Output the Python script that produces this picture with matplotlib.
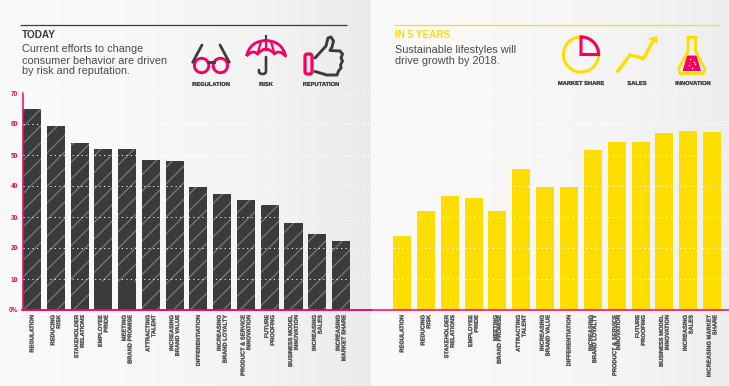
#!/usr/bin/env python3
import matplotlib
matplotlib.use('Agg')
import matplotlib.pyplot as plt
import matplotlib.patheffects as pe
import numpy as np
from matplotlib.colors import LinearSegmentedColormap
from matplotlib.patches import Circle, FancyBboxPatch, Polygon, Wedge, PathPatch
from matplotlib.path import Path

# Data
labels_today = ['REGULATION', 'REDUCING\nRISK', 'STAKEHOLDER\nRELATIONS', 'EMPLOYEE\nPRIDE',
                'MEETING\nBRAND PROMISE', 'ATTRACTING\nTALENT', 'INCREASING\nBRAND VALUE',
                'DIFFERENTIATION', 'INCREASING\nBRAND LOYALTY', 'PRODUCT & SERVICE\nINNOVATION',
                'FUTURE\nPROOFING', 'BUSINESS MODEL\nINNOVATION', 'INCREASING\nSALES',
                'INCREASING\nMARKET SHARE']
labels_future = labels_today[:-1] + ['INCREASING MARKET\nSHARE']
values_today = [64.8, 59.3, 53.9, 52.0, 52.0, 48.4, 48.0, 39.7, 37.4, 35.5, 33.9, 28.0, 24.5, 22.3]
values_future = [24.0, 32.0, 36.8, 36.0, 32.0, 45.5, 39.7, 39.7, 51.6, 54.2, 54.2, 57.0, 57.7, 57.4]
y_ticks = [0, 10, 20, 30, 40, 50, 60, 70]
y_ticklabels = ['0%', '10', '20', '30', '40', '50', '60', '70']

PINK = '#f8005f'
YELLOW = '#fedd00'
DARK = '#3a3b3b'
TEXT = '#4a4a4a'
NARROW = ['Liberation Sans Narrow', 'Liberation Sans']
W, H = 729, 386
THICK = [pe.withStroke(linewidth=0.12, foreground='#555555')]

plt.rcParams['hatch.linewidth'] = 1.0
fig = plt.figure(figsize=(W / 100, H / 100), dpi=100)


def px_axes(x0, y0, x1, y1, **kw):
    # axes from pixel box, y counted from the top of the image
    return fig.add_axes([x0 / W, 1 - y1 / H, (x1 - x0) / W, (y1 - y0) / H], **kw)


# Panel backgrounds
cmap_left = LinearSegmentedColormap.from_list('l', ['#fbfafa', '#f9f8f7', '#f5f4f4', '#ebebeb'])
cmap_right = LinearSegmentedColormap.from_list('r', ['#fbfafa', '#f9f8f7', '#f6f5f5', '#eeeeee'])
bg = px_axes(0, 0, W, H, zorder=0)
bg.axis('off')
ramp = np.linspace(0, 1, 256).reshape(1, -1)
bg.imshow(ramp, cmap=cmap_left, extent=(0, 371, H, 0), aspect='auto')
bg.imshow(ramp, cmap=cmap_right, extent=(371, W, H, 0), aspect='auto')
bg.set_xlim(0, W)
bg.set_ylim(H, 0)

# Charts
ax1 = px_axes(22.5, 93, 371, 310, zorder=2)
ax2 = px_axes(371, 93, 729, 310, zorder=2)
x1 = np.arange(len(values_today))
x2 = np.arange(len(values_future))

ax1.bar(x1, values_today, width=0.76, color=DARK, edgecolor='#747575', hatch='//', linewidth=0)
solid = [(3, 9), (4, 9)]  # hatching stops short on these two bars
ax1.bar([s[0] for s in solid], [s[1] for s in solid], width=0.76, color=DARK, linewidth=0)
ax2.bar(x2, values_future, width=0.755, color=YELLOW, linewidth=0)

ax1.set_xlim(-0.40, 14.26)
ax2.set_xlim(-1.30, 13.71)

for ax, x, labs in ((ax1, x1, labels_today), (ax2, x2, labels_future)):
    ax.set_ylim(0, 70)
    ax.patch.set_alpha(0)
    ax.set_xticks(x)
    ax.set_xticklabels(labs, rotation=90, ha='center', va='top', ma='right', linespacing=1.2,
                       family=NARROW, fontweight='bold', fontsize=4.15, color='#555555', path_effects=THICK)
    ax.tick_params(axis='x', length=0, pad=3.6)
    for sp in ('top', 'right'):
        ax.spines[sp].set_visible(False)
    ax.spines['bottom'].set_color(PINK)
    ax.spines['bottom'].set_linewidth(1.1)
    ax.set_axisbelow(False)
    ax.set_yticks(y_ticks)
    ax.grid(axis='y', color='white', linewidth=0.7, linestyle=(0, (1.2, 3.4)))
    ax.grid(axis='x', visible=False)

ax1.spines['left'].set_color(PINK)
ax1.spines['left'].set_linewidth(1.1)
ax1.set_yticklabels(y_ticklabels, family=NARROW, fontweight='bold', fontsize=4.7, color=PINK)
ax1.tick_params(axis='y', length=0, pad=3)
ax2.spines['left'].set_visible(False)
ax2.tick_params(axis='y', length=0, labelleft=False)

# tighter lines on a few labels of the right chart
for i in (4, 8, 9):
    ax2.get_xticklabels()[i].set_linespacing(0.7)

# Overlay for headings and icons, in image pixels
ov = px_axes(0, 0, W, H, zorder=3)
ov.set_xlim(0, W)
ov.set_ylim(H, 0)
ov.axis('off')

ov.plot([20, 347], [25, 25], color=DARK, lw=0.9, solid_capstyle='butt')
ov.plot([394, 720], [25, 25], color=YELLOW, lw=0.9, solid_capstyle='butt')
ov.plot([21, 371], [310, 310], color=PINK, lw=1.1, solid_capstyle='butt')

ov.text(22, 34.5, 'TODAY', fontsize=7.2, fontweight='bold', color=DARK, va='center', family='Liberation Sans')
ov.text(395, 35, 'IN 5 YEARS', fontsize=7.2, fontweight='bold', color=YELLOW, va='center', family='Liberation Sans')
for y, s in zip((49.5, 60.5, 71.5), ('Current efforts to change', 'consumer behavior are driven', 'by risk and reputation.')):
    ov.text(22, y, s, fontsize=7.85, color=TEXT, va='center', family='Liberation Sans')
for y, s in zip((50, 61), ('Sustainable lifestyles will', 'drive growth by 2018.')):
    ov.text(395, y, s, fontsize=7.85, color=TEXT, va='center', family='Liberation Sans')

icon_names = ['REGULATION', 'RISK', 'REPUTATION', 'MARKET SHARE', 'SALES', 'INNOVATION']
icon_x = [211, 266, 321, 581, 637, 693]
icon_y = [84.5, 84.5, 84.5, 83.5, 83.5, 83.5]
for x, y, s in zip(icon_x, icon_y, icon_names):
    ov.text(x, y, s, fontsize=4.15, fontweight='bold', color='#444444', ha='center', va='center', family=NARROW,
            path_effects=THICK)

# Glasses
ov.plot([192.7, 202], [62.3, 45], color=DARK, lw=2.0, solid_capstyle='round')
ov.plot([229.3, 220], [62.3, 45], color=DARK, lw=2.0, solid_capstyle='round')
ov.plot([208, 214], [62, 62], color=DARK, lw=2.0)
ov.add_patch(Circle((201.6, 65.5), 7.2, fill=False, ec=PINK, lw=2.1))
ov.add_patch(Circle((220.4, 65.5), 7.2, fill=False, ec=PINK, lw=2.1))

# Umbrella
ov.plot([266, 266], [36, 41], color=DARK, lw=1.5)
handle = Path([(266, 57), (266, 71), (266, 74), (262.5, 74), (259.5, 74), (259, 72), (259, 70)],
              [Path.MOVETO, Path.LINETO, Path.CURVE3, Path.CURVE3, Path.CURVE3, Path.CURVE3, Path.LINETO])
ov.add_patch(PathPatch(handle, fill=False, ec=DARK, lw=1.9, capstyle='round'))
canopy = Path([(246.5, 56), (250, 41), (266, 40.5), (282, 41), (285.5, 56),
               (279, 49), (274.5, 54), (270, 49), (266, 49), (262, 49), (257.5, 54), (253, 49), (246.5, 56)],
              [Path.MOVETO, Path.CURVE3, Path.CURVE3, Path.CURVE3, Path.CURVE3,
               Path.CURVE3, Path.CURVE3, Path.CURVE3, Path.CURVE3, Path.CURVE3, Path.CURVE3, Path.CURVE3, Path.CURVE3])
ov.add_patch(PathPatch(canopy, fill=False, ec=PINK, lw=2.0, joinstyle='round'))
ov.plot([266, 266], [41, 50], color=PINK, lw=1.6)
ov.plot([261, 257.5], [41.5, 54], color=PINK, lw=1.6)
ov.plot([271, 274.5], [41.5, 54], color=PINK, lw=1.6)

# Thumb
ov.add_patch(FancyBboxPatch((305, 54), 7, 20, boxstyle='round,pad=0,rounding_size=2.2', fill=False, ec=PINK, lw=2.3))
thumb = [(315, 58), (326, 46), (328, 38), (331, 37), (333.5, 41), (332, 47), (330, 50.5), (340, 51),
         (342.5, 54), (341, 58), (342.5, 61), (340.5, 65), (341, 68), (338.5, 71), (337, 75),
         (327, 75), (315, 71.5)]
ov.plot(*zip(*thumb), color=DARK, lw=2.1, solid_joinstyle='round', solid_capstyle='round')

# Market share pie
ov.add_patch(Circle((581, 54.5), 17.6, fill=False, ec=YELLOW, lw=2.2))
ov.add_patch(Wedge((581, 54.5), 17.6, 270, 360, fill=False, ec=PINK, lw=2.2))

# Sales arrow
ov.plot([617, 630, 643.5, 653], [72.5, 55, 58.5, 41], color=YELLOW, lw=2.5, solid_joinstyle='miter', solid_capstyle='butt')
ov.add_patch(Polygon([(657.5, 36), (657.3, 44), (648, 38.5)], fc=YELLOW, ec='none'))

# Flask
flask = [(686, 37), (697.5, 37)]
ov.plot(*zip(*flask), color=YELLOW, lw=2.2, solid_capstyle='butt')
body = [(688, 37), (688, 51), (678.5, 69), (680, 73.5), (703.5, 73.5), (705, 69), (695.5, 51), (695.5, 37)]
ov.plot(*zip(*body), color=YELLOW, lw=2.0, solid_joinstyle='round')
ov.add_patch(Polygon([(687, 55.5), (696.5, 55.5), (701, 71), (682.5, 71)], fc=PINK, ec='none'))
ov.scatter([690, 694, 689, 695, 692], [59, 62, 65, 64, 68], s=1.2, color='white', linewidths=0)

fig.savefig('out.png', dpi=100)
plt.close()
